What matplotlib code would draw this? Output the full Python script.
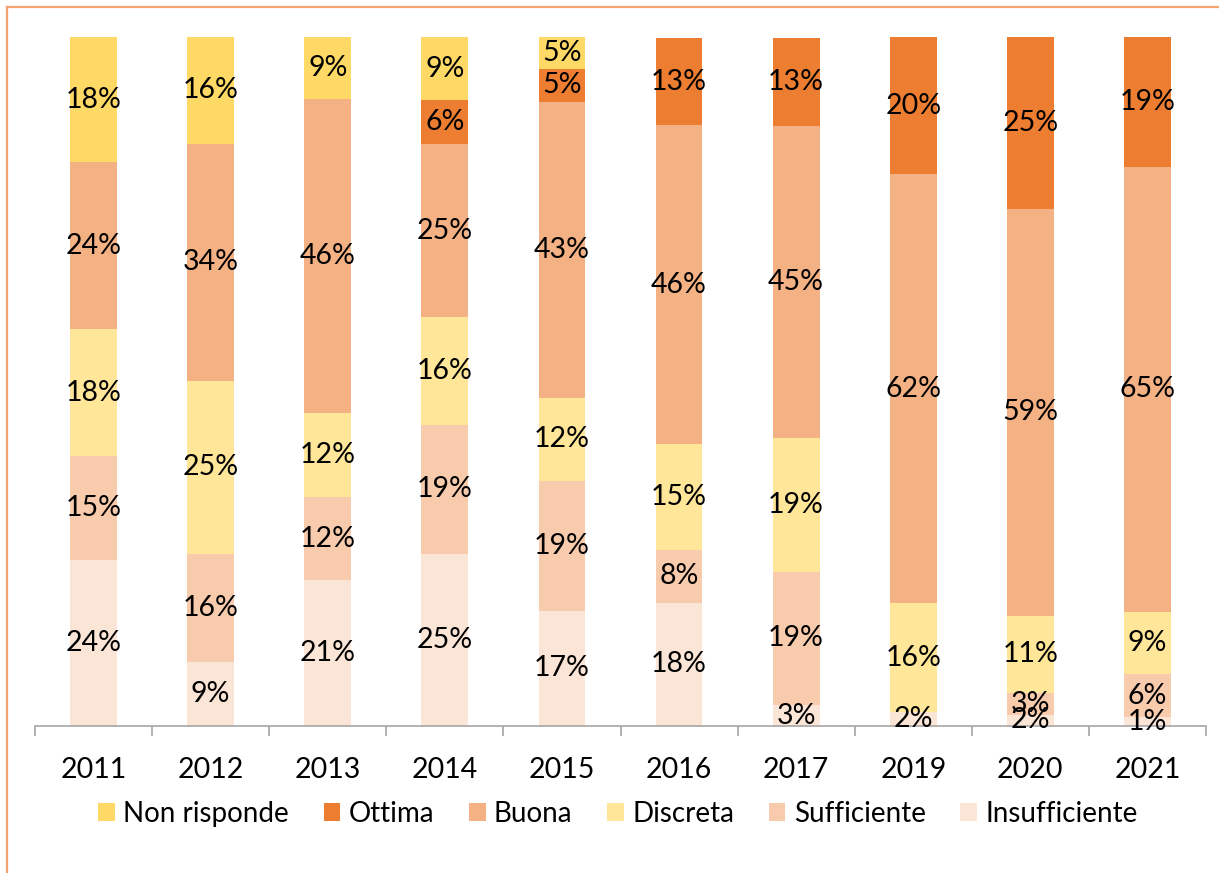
import numpy as np
import matplotlib
matplotlib.use("Agg")
import matplotlib.pyplot as plt
from matplotlib.lines import Line2D

plt.rcParams['font.family'] = ['Lato', 'DejaVu Sans']

years = ["2011", "2012", "2013", "2014", "2015", "2016", "2017", "2019", "2020", "2021"]

# valori in % (dal basso verso l'alto)
insufficiente = [24.1, 9.3, 21.2, 25.0, 16.7, 17.9, 3.0, 2.0, 1.6, 1.3]
sufficiente   = [15.1, 15.7, 12.0, 18.7, 18.9, 7.7, 19.4, 0.0, 3.2, 6.2]
discreta      = [18.4, 25.1, 12.2, 15.7, 12.0, 15.3, 19.4, 15.8, 11.2, 9.1]
buona         = [24.2, 34.4, 45.6, 25.0, 43.0, 46.3, 45.3, 62.3, 59.1, 64.6]
ottima        = [0.0, 0.0, 0.0, 6.4, 4.8, 12.6, 12.8, 19.9, 24.9, 18.8]
non_risponde  = [18.2, 15.5, 9.0, 9.2, 4.6, 0.0, 0.0, 0.0, 0.0, 0.0]

series = [
    ("Insufficiente", insufficiente, "#FBE5D6"),
    ("Sufficiente", sufficiente, "#F8CBAD"),
    ("Discreta", discreta, "#FFE699"),
    ("Buona", buona, "#F4B183"),
    ("Ottima", ottima, "#ED7D31"),
    ("Non risponde", non_risponde, "#FFD966"),
]

W, H = 1219, 873
fig = plt.figure(figsize=(W / 100, H / 100), dpi=100)
ax = fig.add_axes([35 / W, 1 - 726 / H, (1206 - 35) / W, (726 - 37) / H])

x = np.arange(len(years))
bottom = np.zeros(len(years))
handles = {}
for name, vals, col in series:
    vals = np.array(vals)
    bars = ax.bar(x, vals, width=0.4, bottom=bottom, color=col, linewidth=0)
    handles[name] = bars
    for xi, v, b in zip(x, vals, bottom):
        if v > 0:
            ax.text(xi, b + v / 2, f"{round(v):d}%", ha="center", va="center",
                    fontsize=20.5, color="black")
    bottom += vals

ax.set_xlim(-0.5, len(years) - 0.5)
ax.set_ylim(0, 100)
ax.set_yticks([])
for s in ["top", "right", "left"]:
    ax.spines[s].set_visible(False)
ax.spines["bottom"].set_color("#A6A6A6")
ax.spines["bottom"].set_linewidth(1.2)

ax.set_xticks(x)
ax.set_xticklabels(years, fontsize=20.5)
ax.set_xticks(np.arange(-0.5, len(years)), minor=True)
ax.tick_params(axis="x", which="major", length=0, pad=22)
ax.tick_params(axis="x", which="minor", length=7, width=1.2, color="#A6A6A6", direction="out")

order = ["Non risponde", "Ottima", "Buona", "Discreta", "Sufficiente", "Insufficiente"]
leg = fig.legend([handles[n] for n in order], order, loc="center",
                 bbox_to_anchor=(618 / W, 1 - 814 / H), ncol=6, frameon=False,
                 fontsize=20, handlelength=0.6, handleheight=0.6,
                 handletextpad=0.3, columnspacing=1.25)

# bordo arancione
fig.add_artist(Line2D([7 / W, 1], [1 - 7 / H, 1 - 7 / H], color="#F4A36E", lw=1.6))
fig.add_artist(Line2D([7 / W, 7 / W], [0, 1 - 7 / H], color="#F4A36E", lw=1.6))

fig.savefig("out.png", dpi=100, facecolor="white")
